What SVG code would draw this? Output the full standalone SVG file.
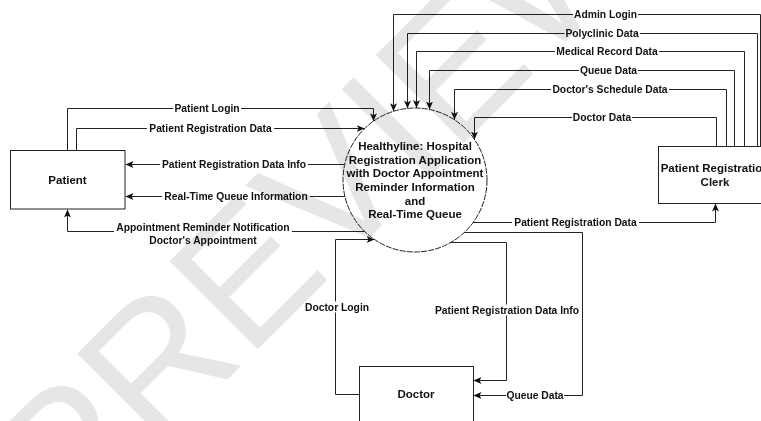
<svg xmlns="http://www.w3.org/2000/svg" width="761" height="421" viewBox="0 0 761 421">
  <style>
    .node { fill: none; stroke: #222; stroke-width: 1; }
    .proc { fill: none; stroke: #222; stroke-width: 1; stroke-dasharray: 6 1.2; }
    .title { font-family: "Liberation Sans", Arial, sans-serif; font-size: 11.5px; font-weight: bold; fill: #111; text-anchor: middle; }
    .flow { fill: none; stroke: #222; stroke-width: 1; marker-end: url(#arrow); }
    .lbl { font-family: "Liberation Sans", Arial, sans-serif; font-size: 10.3px; font-weight: bold; fill: #111; text-anchor: middle; }
    .bg { fill: #fff; }
    .mark { font-family: "Liberation Sans", Arial, sans-serif; font-size: 181px; fill: #e6e6e6; mix-blend-mode: multiply; }
  </style>
  <defs>
    <marker id="arrow" viewBox="0 0 8 7" refX="8" refY="3.5" markerWidth="8" markerHeight="7" orient="auto" markerUnits="userSpaceOnUse">
      <path d="M0,0 L8,3.5 L0,7 L2,3.5 z" fill="#111"/>
    </marker>
  </defs>
  <rect width="761" height="421" fill="#fff"/>

  <!-- data flows -->
  <g id="connectors">
    <path class="flow" d="M760.5,146 V14.5 H393.5 V111.3"/>
    <path class="flow" d="M757.5,146 V33.5 H407.5 V108.4"/>
    <path class="flow" d="M744.5,146 V51.5 H416.5 V108"/>
    <path class="flow" d="M734.5,146 V70.5 H429.5 V109.5"/>
    <path class="flow" d="M726.5,146 V89.5 H454.5 V119.8"/>
    <path class="flow" d="M716.5,146 V117.5 H474.5 V139.5"/>
    <path class="flow" d="M67.5,150 V108.5 H373.5 V121.2"/>
    <path class="flow" d="M76.5,150 V128.5 H364.7"/>
    <path class="flow" d="M344.7,164.5 H125.5"/>
    <path class="flow" d="M344.9,196.5 H125.5"/>
    <path class="flow" d="M364.7,231.5 H67.5 V209.5"/>
    <path class="flow" d="M359,394.5 H335.5 V239.5 H374.5"/>
    <path class="flow" d="M450.7,242.5 H506.5 V380.5 H473.5"/>
    <path class="flow" d="M464.3,232.5 H582.5 V395.5 H473.5"/>
    <path class="flow" d="M473.1,222.5 H715.5 V203.5"/>

    <!-- flow labels -->
    <rect class="bg" x="573" y="9" width="65" height="11"/>
    <text class="lbl" x="605.5" y="18.2">Admin Login</text>
    <rect class="bg" x="564.5" y="28" width="75.5" height="11"/>
    <text class="lbl" x="602" y="37.2">Polyclinic Data</text>
    <rect class="bg" x="555" y="46" width="104" height="11"/>
    <text class="lbl" x="607" y="55.2">Medical Record Data</text>
    <rect class="bg" x="579" y="65" width="59" height="11"/>
    <text class="lbl" x="608.5" y="74.2">Queue Data</text>
    <rect class="bg" x="551" y="84" width="118" height="11"/>
    <text class="lbl" x="610" y="93.2">Doctor's Schedule Data</text>
    <rect class="bg" x="572" y="112" width="60" height="11"/>
    <text class="lbl" x="602" y="121.2">Doctor Data</text>

    <rect class="bg" x="173" y="103" width="68" height="11"/>
    <text class="lbl" x="207" y="112.2">Patient Login</text>
    <rect class="bg" x="147" y="123" width="127" height="11"/>
    <text class="lbl" x="210.5" y="132.2">Patient Registration Data</text>
    <rect class="bg" x="160" y="159" width="148" height="11"/>
    <text class="lbl" x="234" y="168.2">Patient Registration Data Info</text>
    <rect class="bg" x="162" y="191" width="148" height="11"/>
    <text class="lbl" x="236" y="200.2">Real-Time Queue Information</text>
    <rect class="bg" x="114" y="221" width="178" height="24"/>
    <text class="lbl" x="203" y="230.7">Appointment Reminder Notification</text>
    <text class="lbl" x="203" y="243.7">Doctor's Appointment</text>

    <rect class="bg" x="304" y="301.5" width="66" height="11"/>
    <text class="lbl" x="337" y="310.7">Doctor Login</text>
    <rect class="bg" x="432.5" y="304.5" width="148.5" height="11"/>
    <text class="lbl" x="507" y="313.7">Patient Registration Data Info</text>
    <rect class="bg" x="506" y="390" width="58" height="11"/>
    <text class="lbl" x="535" y="399.2">Queue Data</text>
    <rect class="bg" x="512" y="217" width="127" height="11"/>
    <text class="lbl" x="575.5" y="226.2">Patient Registration Data</text>
  </g>

  <!-- external entities and process -->
  <g id="patient">
    <rect class="node" x="10.5" y="150.5" width="114.5" height="58.5"/>
    <text class="title" x="67.5" y="184">Patient</text>
  </g>

  <g id="clerk">
    <rect class="node" x="658.5" y="146.5" width="114" height="57"/>
    <text class="title" x="715" y="172">Patient Registration</text>
    <text class="title" x="715" y="186">Clerk</text>
  </g>

  <g id="doctor">
    <rect class="node" x="359.5" y="366.5" width="114" height="60"/>
    <text class="title" x="416" y="398">Doctor</text>
  </g>

  <g id="healthyline">
    <circle class="proc" cx="415" cy="180" r="72"/>
    <text class="title" x="415" y="150">Healthyline: Hospital</text>
    <text class="title" x="415" y="163.5">Registration Application</text>
    <text class="title" x="415" y="177">with Doctor Appointment</text>
    <text class="title" x="415" y="191">Reminder Information</text>
    <text class="title" x="415" y="204.5">and</text>
    <text class="title" x="415" y="218" font-weight="normal">Real-Time Queue</text>
  </g>

  <!-- faint watermark across the sheet -->
  <g id="watermark">
    <text class="mark" x="69.5" y="537.5" transform="rotate(-45 69.5 537.5)">PREVIEW</text>
  </g>
</svg>
